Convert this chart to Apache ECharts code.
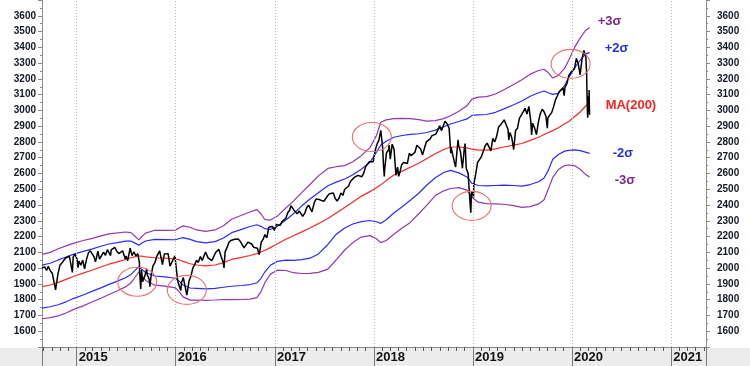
<!DOCTYPE html>
<html><head><meta charset="utf-8">
<script src="https://cdn.jsdelivr.net/npm/echarts@6/dist/echarts.min.js"></script>
<style>html,body{margin:0;padding:0;background:#fff}#c{width:750px;height:366px}</style>
</head><body><div id="c"></div>
<script>
// ---- data ----
const yearLabels = [2015, 2016, 2017, 2018, 2019, 2020, 2021];
const yTicks = { min: 1500, max: 3700, step: 100 };
const axisStart = '2014-08-26';
const axisEnd = '2021-05-09';

const price = [
['2014-08-26',2000],['2014-08-29',2003],['2014-09-05',2008],['2014-09-12',1985],['2014-09-18',2011],['2014-09-26',1982],
['2014-10-03',1967],['2014-10-10',1906],['2014-10-15',1862],['2014-10-17',1886],['2014-10-24',1965],['2014-10-31',2018],
['2014-11-07',2032],['2014-11-14',2039],['2014-11-21',2064],['2014-11-28',2068],['2014-12-05',2075],['2014-12-16',1973],
['2014-12-19',2071],['2014-12-26',2089],
['2015-01-02',2058],['2015-01-06',2003],['2015-01-09',2045],['2015-01-16',2019],['2015-01-23',2051],['2015-01-30',1995],
['2015-02-06',2055],['2015-02-13',2097],['2015-02-20',2110],['2015-02-27',2105],['2015-03-06',2071],['2015-03-11',2040],
['2015-03-13',2053],['2015-03-20',2108],['2015-03-26',2057],['2015-04-02',2067],['2015-04-10',2102],['2015-04-17',2081],
['2015-04-24',2117],['2015-05-01',2108],['2015-05-06',2080],['2015-05-08',2116],['2015-05-15',2123],['2015-05-21',2131],
['2015-05-29',2107],['2015-06-05',2092],['2015-06-12',2094],['2015-06-19',2110],['2015-06-26',2101],['2015-06-29',2058],
['2015-07-02',2077],['2015-07-08',2047],['2015-07-17',2127],['2015-07-24',2079],['2015-07-31',2104],['2015-08-07',2078],
['2015-08-14',2092],['2015-08-20',2036],['2015-08-21',1971],['2015-08-25',1868],['2015-08-28',1989],['2015-09-01',1914],
['2015-09-04',1921],['2015-09-11',1961],['2015-09-16',1996],['2015-09-18',1958],['2015-09-25',1931],['2015-09-28',1882],
['2015-10-02',1951],['2015-10-09',2014],['2015-10-16',2033],['2015-10-23',2075],['2015-10-30',2079],['2015-11-03',2110],
['2015-11-06',2099],['2015-11-13',2023],['2015-11-20',2089],['2015-11-27',2090],['2015-12-04',2092],['2015-12-11',2012],
['2015-12-14',2021],['2015-12-18',2005],['2015-12-24',2061],['2015-12-29',2078],['2015-12-31',2044],
['2016-01-08',1922],['2016-01-15',1880],['2016-01-20',1859],['2016-01-22',1907],['2016-01-29',1940],['2016-02-05',1880],
['2016-02-11',1829],['2016-02-19',1918],['2016-02-26',1948],['2016-03-04',2000],['2016-03-11',2022],['2016-03-18',2050],
['2016-03-24',2036],['2016-04-01',2073],['2016-04-08',2048],['2016-04-15',2081],['2016-04-20',2102],['2016-04-29',2065],
['2016-05-06',2057],['2016-05-13',2047],['2016-05-19',2040],['2016-05-27',2099],['2016-06-03',2099],['2016-06-08',2119],
['2016-06-17',2071],['2016-06-24',2037],['2016-06-27',2001],['2016-07-01',2103],['2016-07-08',2130],['2016-07-15',2162],
['2016-07-22',2175],['2016-07-29',2173],['2016-08-05',2183],['2016-08-12',2184],['2016-08-19',2184],['2016-08-26',2169],
['2016-09-02',2180],['2016-09-09',2128],['2016-09-16',2139],['2016-09-23',2165],['2016-09-30',2168],['2016-10-07',2153],
['2016-10-14',2133],['2016-10-21',2141],['2016-10-28',2126],['2016-11-04',2085],['2016-11-11',2164],['2016-11-18',2182],
['2016-11-25',2213],['2016-12-02',2192],['2016-12-09',2259],['2016-12-16',2258],['2016-12-23',2264],['2016-12-30',2239],
['2017-01-06',2277],['2017-01-13',2275],['2017-01-20',2271],['2017-01-27',2295],['2017-02-03',2297],['2017-02-10',2316],
['2017-02-17',2351],['2017-02-24',2367],['2017-03-01',2396],['2017-03-10',2372],['2017-03-17',2378],['2017-03-24',2344],
['2017-03-31',2363],['2017-04-07',2355],['2017-04-13',2329],['2017-04-21',2349],['2017-04-28',2384],['2017-05-05',2399],
['2017-05-12',2390],['2017-05-17',2357],['2017-05-26',2416],['2017-06-02',2439],['2017-06-09',2432],['2017-06-16',2433],
['2017-06-23',2438],['2017-06-30',2423],['2017-07-07',2425],['2017-07-14',2459],['2017-07-21',2472],['2017-07-28',2472],
['2017-08-04',2477],['2017-08-11',2441],['2017-08-18',2426],['2017-08-25',2443],['2017-09-01',2477],['2017-09-08',2461],
['2017-09-15',2500],['2017-09-22',2502],['2017-09-29',2519],['2017-10-06',2549],['2017-10-13',2553],['2017-10-20',2575],
['2017-10-27',2581],['2017-11-03',2588],['2017-11-10',2582],['2017-11-17',2579],['2017-11-24',2602],['2017-12-01',2642],
['2017-12-08',2651],['2017-12-15',2675],['2017-12-22',2683],['2017-12-29',2674],
['2018-01-05',2743],['2018-01-12',2786],['2018-01-19',2810],['2018-01-26',2873],['2018-02-02',2762],['2018-02-05',2649],
['2018-02-08',2581],['2018-02-09',2620],['2018-02-16',2732],['2018-02-23',2747],['2018-02-26',2780],['2018-03-02',2691],
['2018-03-09',2786],['2018-03-16',2752],['2018-03-23',2588],['2018-03-29',2641],['2018-04-02',2582],['2018-04-06',2604],
['2018-04-13',2656],['2018-04-20',2670],['2018-04-27',2670],['2018-05-04',2663],['2018-05-11',2728],['2018-05-18',2713],
['2018-05-25',2721],['2018-06-01',2735],['2018-06-08',2779],['2018-06-15',2780],['2018-06-22',2755],['2018-06-29',2718],
['2018-07-06',2760],['2018-07-13',2801],['2018-07-20',2802],['2018-07-27',2819],['2018-08-03',2840],['2018-08-10',2833],
['2018-08-17',2850],['2018-08-24',2875],['2018-08-31',2902],['2018-09-07',2872],['2018-09-14',2905],['2018-09-20',2931],
['2018-09-28',2914],['2018-10-05',2886],['2018-10-11',2729],['2018-10-12',2767],['2018-10-19',2768],['2018-10-26',2659],
['2018-10-29',2641],['2018-11-02',2723],['2018-11-07',2814],['2018-11-09',2781],['2018-11-16',2736],['2018-11-23',2633],
['2018-11-30',2760],['2018-12-03',2790],['2018-12-07',2633],['2018-12-14',2600],['2018-12-21',2417],['2018-12-24',2351],
['2018-12-26',2468],['2018-12-28',2486],
['2019-01-03',2448],['2019-01-04',2532],['2019-01-11',2596],['2019-01-18',2671],['2019-01-25',2665],['2019-02-01',2707],
['2019-02-08',2708],['2019-02-15',2776],['2019-02-22',2793],['2019-03-01',2804],['2019-03-08',2743],['2019-03-15',2822],
['2019-03-22',2800],['2019-03-29',2834],['2019-04-05',2893],['2019-04-12',2907],['2019-04-18',2905],['2019-04-26',2940],
['2019-05-03',2946],['2019-05-10',2881],['2019-05-13',2812],['2019-05-17',2860],['2019-05-24',2826],['2019-05-31',2752],
['2019-06-03',2744],['2019-06-07',2873],['2019-06-14',2887],['2019-06-21',2950],['2019-06-28',2942],['2019-07-05',2990],
['2019-07-12',3014],['2019-07-19',2977],['2019-07-26',3026],['2019-08-02',2932],['2019-08-05',2844],['2019-08-09',2919],
['2019-08-16',2889],['2019-08-23',2847],['2019-08-30',2926],['2019-09-06',2979],['2019-09-13',3007],['2019-09-20',2992],
['2019-09-27',2962],['2019-10-02',2887],['2019-10-04',2952],['2019-10-11',2970],['2019-10-18',2986],['2019-10-25',3023],
['2019-11-01',3067],['2019-11-08',3093],['2019-11-15',3120],['2019-11-22',3110],['2019-11-29',3141],['2019-12-03',3093],
['2019-12-06',3146],['2019-12-13',3169],['2019-12-20',3221],['2019-12-27',3240],
['2020-01-03',3235],['2020-01-10',3265],['2020-01-17',3330],['2020-01-24',3295],['2020-01-31',3226],['2020-02-07',3328],
['2020-02-14',3380],['2020-02-19',3386],['2020-02-21',3338],['2020-02-24',3226],['2020-02-25',3128],['2020-02-27',2979],
['2020-02-28',2954],['2020-03-02',3090],['2020-03-03',3003],['2020-03-04',3130],['2020-03-05',3023],['2020-03-06',2972]
];

const bandDates = [
'2014-08-26','2014-09-25','2014-10-25','2014-11-25','2014-12-19','2015-01-25','2015-02-28','2015-03-31','2015-04-30',
'2015-05-31','2015-06-30','2015-07-20','2015-08-06','2015-08-18','2015-08-28','2015-09-12','2015-10-16','2015-11-22',
'2015-12-31','2016-01-15','2016-01-28','2016-02-23','2016-03-18','2016-04-20','2016-05-25','2016-06-25','2016-07-25',
'2016-08-31','2016-10-01','2016-10-26','2016-11-10','2016-11-25','2016-12-15','2017-01-10','2017-02-10','2017-03-10',
'2017-04-10','2017-05-10','2017-06-10','2017-07-15','2017-08-15','2017-09-15','2017-10-15','2017-11-15','2017-12-17',
'2018-01-10','2018-01-26','2018-02-15','2018-03-15','2018-04-15','2018-05-15','2018-06-15','2018-07-15','2018-08-15',
'2018-09-15','2018-10-10','2018-11-10','2018-12-10','2018-12-28','2019-01-20','2019-02-20','2019-03-25','2019-04-25',
'2019-05-31','2019-06-30','2019-07-31','2019-08-31','2019-09-20','2019-10-05','2019-10-22','2019-11-12','2019-12-05',
'2019-12-20','2020-01-10','2020-01-31','2020-02-19','2020-03-06'
];
const ma200 = [
1883,1893,1910,1930,1947,1968,1988,2007,2025,2040,2055,2066,2073,2077,2076,2072,2066,2063,2058,2052,2043,2028,2020,2014,
2020,2035,2055,2068,2080,2092,2102,2113,2130,2155,2183,2205,2230,2255,2282,2315,2350,2385,2420,2455,2485,2510,2528,2555,
2590,2615,2640,2665,2695,2725,2752,2768,2768,2762,2754,2748,2748,2756,2768,2780,2790,2810,2830,2847,2858,2872,2890,2915,
2930,2960,2990,3025,3052
];
const plus3s = [
2087,2100,2123,2143,2157,2175,2189,2205,2217,2223,2229,2225,2199,2179,2199,2222,2240,2240,2241,2256,2268,2259,2242,2233,
2242,2269,2310,2335,2356,2371,2345,2307,2305,2330,2381,2425,2480,2530,2585,2632,2643,2650,2675,2713,2764,2840,2925,2940,
2948,2950,2948,2942,2932,2935,2948,2966,2995,3030,3072,3084,3087,3104,3131,3164,3195,3230,3253,3261,3240,3205,3222,3268,
3318,3398,3458,3505,3526
];
const plus2s = [
2019,2031,2052,2072,2087,2106,2122,2139,2153,2162,2171,2172,2157,2145,2158,2172,2182,2181,2180,2188,2193,2182,2168,2160,
2168,2191,2225,2246,2264,2275,2265,2250,2245,2265,2305,2345,2395,2438,2478,2522,2545,2565,2592,2627,2671,2735,2780,2805,
2830,2841,2848,2852,2860,2875,2896,2914,2930,2946,2968,2972,2974,2988,3010,3036,3060,3090,3112,3123,3112,3102,3108,3158,
3208,3268,3318,3355,3368
];
const minus2s = [
1747,1755,1768,1788,1807,1830,1854,1875,1897,1918,1939,1960,1989,2009,1994,1972,1950,1945,1936,1916,1893,1874,1872,1868,
1872,1879,1885,1890,1896,1906,1934,1977,2018,2043,2051,2049,2054,2063,2090,2150,2215,2255,2280,2295,2302,2294,2284,2307,
2350,2389,2430,2475,2527,2573,2606,2620,2604,2578,2538,2524,2522,2524,2526,2524,2520,2530,2548,2571,2618,2690,2720,2742,
2747,2750,2745,2736,2728
];
const minus3s = [
1679,1686,1697,1717,1737,1761,1787,1809,1833,1857,1881,1907,1947,1975,1953,1922,1892,1886,1875,1848,1818,1797,1798,1795,
1798,1801,1800,1801,1804,1813,1850,1909,1962,1987,1985,1971,1966,1967,1973,1994,2053,2115,2162,2197,2206,2186,2162,2175,
2215,2255,2290,2345,2400,2460,2490,2505,2510,2495,2450,2418,2409,2408,2405,2396,2385,2390,2407,2433,2498,2575,2625,2650,
2654,2650,2627,2596,2578
];
// annotation ellipse centres [date, value]
const circleCentres = [['2015-08-12',1914],['2016-02-11',1862],['2017-12-24',2831],['2018-12-27',2395],['2019-12-27',3295]];

// ---- chart ----
const toTs = d => { const p = d.split('-').map(Number); return Date.UTC(p[0], p[1]-1, p[2]); };
const xMin = toTs(axisStart), xMax = toTs(axisEnd);
const yearTs = yearLabels.map(y => Date.UTC(y, 0, 1));
const monthTs = [];
for (let y = 2014; y <= 2021; y++) for (let m = 1; m < 12; m++) { const t = Date.UTC(y, m, 1); if (t > xMin && t < xMax) monthTs.push(t); }

const band = arr => bandDates.map((d, i) => [toTs(d), arr[i]]);
const FONT = '"Liberation Sans", Arial, sans-serif';
const PURPLE = '#9437b0', BLUE = '#2b2bff', RED = '#ff2626';

function lineSeries(name, data, color, width, lbl, lblColor, off) {
  const s = { name, type: 'line', data, symbol: 'none', showSymbol: false, animation: false, silent: true,
    lineStyle: { color, width }, z: 3 };
  if (lbl) s.endLabel = { show: true, formatter: lbl, color: lblColor, fontFamily: FONT, fontWeight: 'bold',
    fontSize: 13, distance: 0, offset: off };
  return s;
}

const yAxisCommon = {
  type: 'value', min: yTicks.min, max: yTicks.max, interval: yTicks.step,
  axisLine: { show: true, lineStyle: { color: '#8a8a8a', width: 1 } },
  axisTick: { show: true, length: 4, lineStyle: { color: '#8a8a8a' } },
  minorTick: { show: true, splitNumber: 2, length: 2, lineStyle: { color: '#8a8a8a' } },
  splitLine: { show: false },
  axisLabel: { showMinLabel: false, showMaxLabel: false, formatter: v => String(v), color: '#111827',
    fontFamily: FONT, fontWeight: 'bold', fontSize: 10 }
};

const chart = echarts.init(document.getElementById('c'), null, { renderer: 'canvas' });
chart.setOption({
  animation: false,
  backgroundColor: '#ffffff',
  grid: { left: 42, right: 44, top: 0, bottom: 19, containLabel: false },
  xAxis: [
    { type: 'value', min: xMin, max: xMax,
      axisLine: { show: true, lineStyle: { color: '#8a8a8a' } },
      axisTick: { show: true, customValues: monthTs, length: 4, lineStyle: { color: '#555' } },
      axisLabel: { customValues: yearTs, formatter: v => String(new Date(v).getUTCFullYear()), align: 'left',
        margin: 4, padding: [0, 0, 0, 2], color: '#111', fontFamily: FONT, fontWeight: 'bold', fontSize: 13 },
      splitLine: { show: false } },
    { type: 'value', min: xMin, max: xMax, position: 'bottom',
      axisLine: { show: false },
      axisTick: { show: true, customValues: [xMin].concat(yearTs, [xMax]), length: 19, lineStyle: { color: '#777' } },
      axisLabel: { show: false }, splitLine: { show: false } }
  ],
  yAxis: [
    Object.assign({}, yAxisCommon, { position: 'left', axisLabel: Object.assign({}, yAxisCommon.axisLabel, { margin: 6 }) }),
    Object.assign({}, yAxisCommon, { position: 'right', axisLabel: Object.assign({}, yAxisCommon.axisLabel, { margin: 11 }) })
  ],
  series: [
    lineSeries('+3σ', band(plus3s), PURPLE, 1.2, '+3σ', '#7b2a88', [8, -6]),
    lineSeries('+2σ', band(plus2s), BLUE, 1.2, '+2σ', '#2330e6', [15, -4]),
    lineSeries('MA(200)', band(ma200), RED, 1.2, 'MA(200)', '#ff1f1f', [16, 3]),
    lineSeries('-2σ', band(minus2s), BLUE, 1.2, '-2σ', '#2330e6', [23, 0]),
    lineSeries('-3σ', band(minus3s), PURPLE, 1.2, '-3σ', '#7b2a88', [25, 3]),
    { name: 'S&P 500', type: 'line', data: price.map(p => [toTs(p[0]), p[1]]), symbol: 'none', showSymbol: false,
      animation: false, silent: true, lineStyle: { color: '#000', width: 1.5 }, z: 4,
      markLine: { silent: true, symbol: ['none', 'none'], animation: false, label: { show: false },
        lineStyle: { color: '#b8b8b8', type: [1, 2], width: 1 },
        data: yearTs.map(t => ({ xAxis: t })) } }
  ]
});

const graphics = [{ type: 'rect', z: -100, silent: true, shape: { x: 0, y: 348, width: 750, height: 18 }, style: { fill: '#ececec' } }];
circleCentres.forEach(c => {
  const p = chart.convertToPixel({ xAxisIndex: 0, yAxisIndex: 0 }, [toTs(c[0]), c[1]]);
  graphics.push({ type: 'ellipse', silent: true, z: 10, shape: { cx: p[0], cy: p[1], rx: 19.5, ry: 14.5 },
    style: { fill: 'none', stroke: '#f07070', lineWidth: 1.1 } });
});
chart.setOption({ graphic: graphics });
</script></body></html>
